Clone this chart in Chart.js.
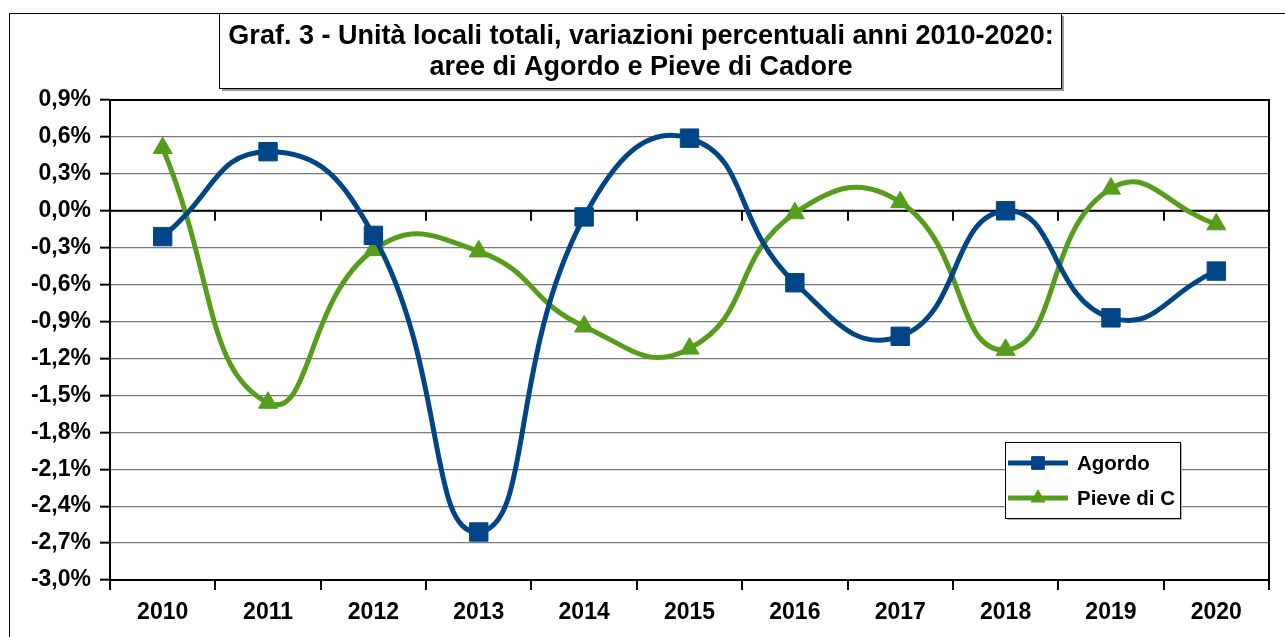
<!DOCTYPE html>
<html>
<head>
<meta charset="utf-8">
<script src="https://cdn.jsdelivr.net/npm/chart.js@4.4.1/dist/chart.umd.min.js"></script>
<style>
html,body{margin:0;padding:0;background:#fff;}
#wrap{width:1285px;height:637px;position:relative;}
</style>
</head>
<body>
<div id="wrap"><canvas id="c" width="1285" height="637"></canvas></div>
<script>
const years = ['2010','2011','2012','2013','2014','2015','2016','2017','2018','2019','2020'];
const agordo = [-0.21, 0.48, -0.20, -2.61, -0.05, 0.59, -0.585, -1.02, 0.0, -0.87, -0.49];
const pieve = [0.51, -1.56, -0.32, -0.33, -0.94, -1.12, -0.02, 0.07, -1.13, 0.18, -0.11];
const seriesNames = ['Agordo', 'Pieve di C'];
const titleLines = ['Graf. 3 - Unità locali totali, variazioni percentuali anni 2010-2020:', 'aree di Agordo e Pieve di Cadore'];
const yMin = -3.0, yMax = 0.9, yStep = 0.3;

const BLUE = '#004586', GREEN = '#579d1c';
const FONT = '"Liberation Sans", Arial, sans-serif';

const decorPlugin = {
  id: 'decor',
  beforeDraw(chart) {
    const ctx = chart.ctx;
    ctx.save();
    ctx.fillStyle = '#fff';
    ctx.fillRect(0, 0, chart.width, chart.height);
    ctx.strokeStyle = '#000';
    ctx.lineWidth = 1;
    ctx.strokeRect(9.5, 13.5, 1300, 700);
    ctx.fillStyle = '#9a9a9a';
    ctx.fillRect(222, 16, 842, 75);
    ctx.fillStyle = '#fff';
    ctx.fillRect(219.5, 13.5, 842, 75);
    ctx.strokeStyle = '#000';
    ctx.strokeRect(219.5, 13.5, 842, 75);
    ctx.fillStyle = '#000';
    ctx.font = 'bold 27px ' + FONT;
    ctx.textAlign = 'center';
    ctx.textBaseline = 'middle';
    ctx.fillText(titleLines[0], 641, 37);
    ctx.fillText(titleLines[1], 641, 68);
    ctx.restore();
  },
  beforeDatasetsDraw(chart) {
    const ctx = chart.ctx;
    const a = chart.chartArea;
    const xs = chart.scales.x, ys = chart.scales.y;
    ctx.save();
    ctx.strokeStyle = '#000';
    ctx.lineWidth = 2;
    ctx.strokeRect(a.left, a.top, a.right - a.left, a.bottom - a.top);
    const y0 = ys.getPixelForValue(0);
    ctx.beginPath();
    ctx.moveTo(a.left, y0); ctx.lineTo(a.right, y0);
    for (let i = 1; i < years.length; i++) {
      const x = Math.round(xs.getPixelForValue(i - 0.5));
      ctx.moveTo(x, y0); ctx.lineTo(x, y0 + 10);
    }
    ctx.stroke();
    ctx.restore();
  },
  afterDraw(chart) {
    const ctx = chart.ctx;
    ctx.save();
    ctx.fillStyle = '#b0b0b0';
    ctx.fillRect(1007, 444, 175, 76);
    ctx.fillStyle = '#fff';
    ctx.fillRect(1005.5, 442.5, 175, 76);
    ctx.strokeStyle = '#000';
    ctx.lineWidth = 1;
    ctx.strokeRect(1005.5, 442.5, 175, 76);
    const rows = [463, 498];
    chart.data.datasets.forEach((ds, i) => {
      const y = rows[i];
      ctx.strokeStyle = ds.borderColor;
      ctx.lineWidth = 5;
      ctx.beginPath();
      ctx.moveTo(1008, y); ctx.lineTo(1068, y);
      ctx.stroke();
      ctx.fillStyle = ds.borderColor;
      ctx.strokeStyle = ds.borderColor;
      ctx.lineWidth = 1;
      Chart.helpers.drawPoint(ctx, {pointStyle: ds.pointStyle, rotation: 0, borderWidth: 1, radius: ds.pointStyle === 'rect' ? 9 : 8}, 1038, y);
      ctx.fillStyle = '#000';
      ctx.font = 'bold 20.5px ' + FONT;
      ctx.textAlign = 'left';
      ctx.textBaseline = 'middle';
      ctx.fillText(ds.label, 1077, y + 1);
    });
    ctx.restore();
  }
};

new Chart(document.getElementById('c'), {
  type: 'line',
  data: {
    labels: years,
    datasets: [
      {label: seriesNames[0], data: agordo, borderColor: BLUE, backgroundColor: BLUE, borderWidth: 5,
       tension: 0.5, pointStyle: 'rect', pointRadius: 13, pointHoverRadius: 13, pointBorderWidth: 1,
       pointBackgroundColor: BLUE, pointBorderColor: BLUE, fill: false},
      {label: seriesNames[1], data: pieve, borderColor: GREEN, backgroundColor: GREEN, borderWidth: 5,
       tension: 0.5, pointStyle: 'triangle', pointRadius: 11, pointHoverRadius: 11, pointBorderWidth: 1,
       pointBackgroundColor: GREEN, pointBorderColor: GREEN, fill: false}
    ]
  },
  options: {
    responsive: false,
    animation: false,
    events: [],
    layout: {padding: {top: 100, right: 16, bottom: 0, left: 0}},
    plugins: {legend: {display: false}, title: {display: false}, tooltip: {enabled: false}},
    scales: {
      x: {
        offset: true,
        grid: {display: true, drawOnChartArea: false, drawTicks: true, tickLength: 10, offset: true,
               color: '#000', lineWidth: 2},
        border: {display: true, color: '#000', width: 2},
        ticks: {color: '#000', font: {family: FONT, size: 23, weight: 'bold'}, padding: 9, maxRotation: 0, autoSkip: false},
        afterFit(s) { s.height = 57; }
      },
      y: {
        min: yMin, max: yMax,
        grid: {color: (c) => (c.tick && Math.abs(c.tick.value) < 1e-9) ? '#000' : '#7a7a7a',
               lineWidth: 1.3, drawTicks: true, tickLength: 10, tickColor: '#000', tickWidth: 2},
        border: {display: true, color: '#000', width: 2},
        ticks: {stepSize: yStep, color: '#000', font: {family: FONT, size: 23, weight: 'bold'}, padding: 9,
                callback: (v) => v.toFixed(1).replace('.', ',') + '%'},
        afterFit(s) { s.width = 110; }
      }
    }
  },
  plugins: [decorPlugin]
});
</script>
</body>
</html>
